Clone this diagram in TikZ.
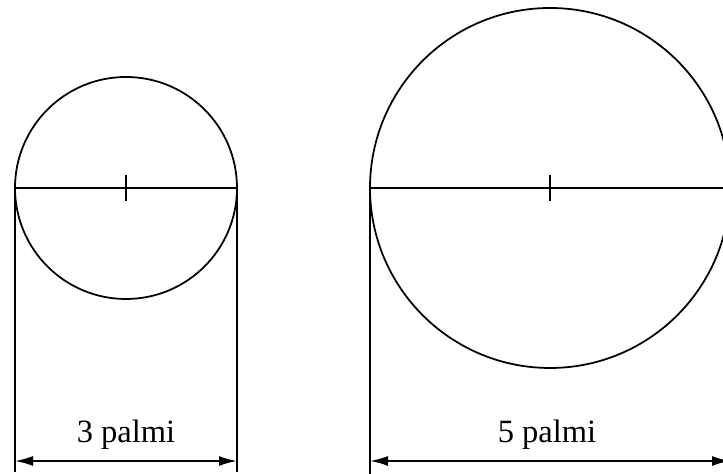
\documentclass[tikz,border=0pt]{standalone}
\usepackage{fontspec}
\setmainfont{Liberation Serif}
\usetikzlibrary{positioning, arrows.meta, calc}

\begin{document}
\begin{tikzpicture}[
    cerchio/.style={circle, draw, line width=1pt, inner sep=0pt, outer sep=0pt},
    linea/.style={line width=0.9pt},
    quota/.style={<->, >={Latex[length=3.6mm, width=2mm]}, line width=1.1pt},
    misura/.style={font=\fontsize{18.5}{22}\selectfont}
]
\useasboundingbox (0,0) rectangle (14.46,9.48);
\clip (0,0) rectangle (14.46,9.48);

% Cerchio piccolo
\node[cerchio, minimum size=4.44cm] (c1) at (2.52,5.72) {};
% Cerchio grande
\node[cerchio, minimum size=7.2cm] (c2) at (11.0,5.72) {};

% Diametri
\draw[linea] (c1.west) -- (c1.east);
\draw[linea] (c2.west) -- (c2.east);
\draw[linea] ($(c1.center)+(0,0.26)$) -- ($(c1.center)+(0,-0.26)$);
\draw[linea] ($(c2.center)+(0,0.26)$) -- ($(c2.center)+(0,-0.26)$);

% Linee di richiamo
\coordinate (p1) at (c1.west |- 0,0.04);
\coordinate (p2) at (c1.east |- 0,0.04);
\coordinate (p3) at (c2.west |- 0,0);
\draw[linea] (c1.west) -- (p1);
\draw[linea] (c1.east) -- (p2);
\draw[linea] (c2.west) -- (p3);

% Quote
\coordinate (q1) at (c1.west |- 0,0.26);
\coordinate (q2) at (c1.east |- 0,0.26);
\coordinate (q3) at (c2.west |- 0,0.26);
\coordinate (q4) at (c2.east |- 0,0.26);
\draw[quota] (q1) -- (q2);
\draw[quota] (q3) -- (q4);

\node[misura] (m1) at (2.52,0.78) {3 palmi};
\node[misura] (m2) at (10.94,0.78) {5 palmi};

\end{tikzpicture}
\end{document}
